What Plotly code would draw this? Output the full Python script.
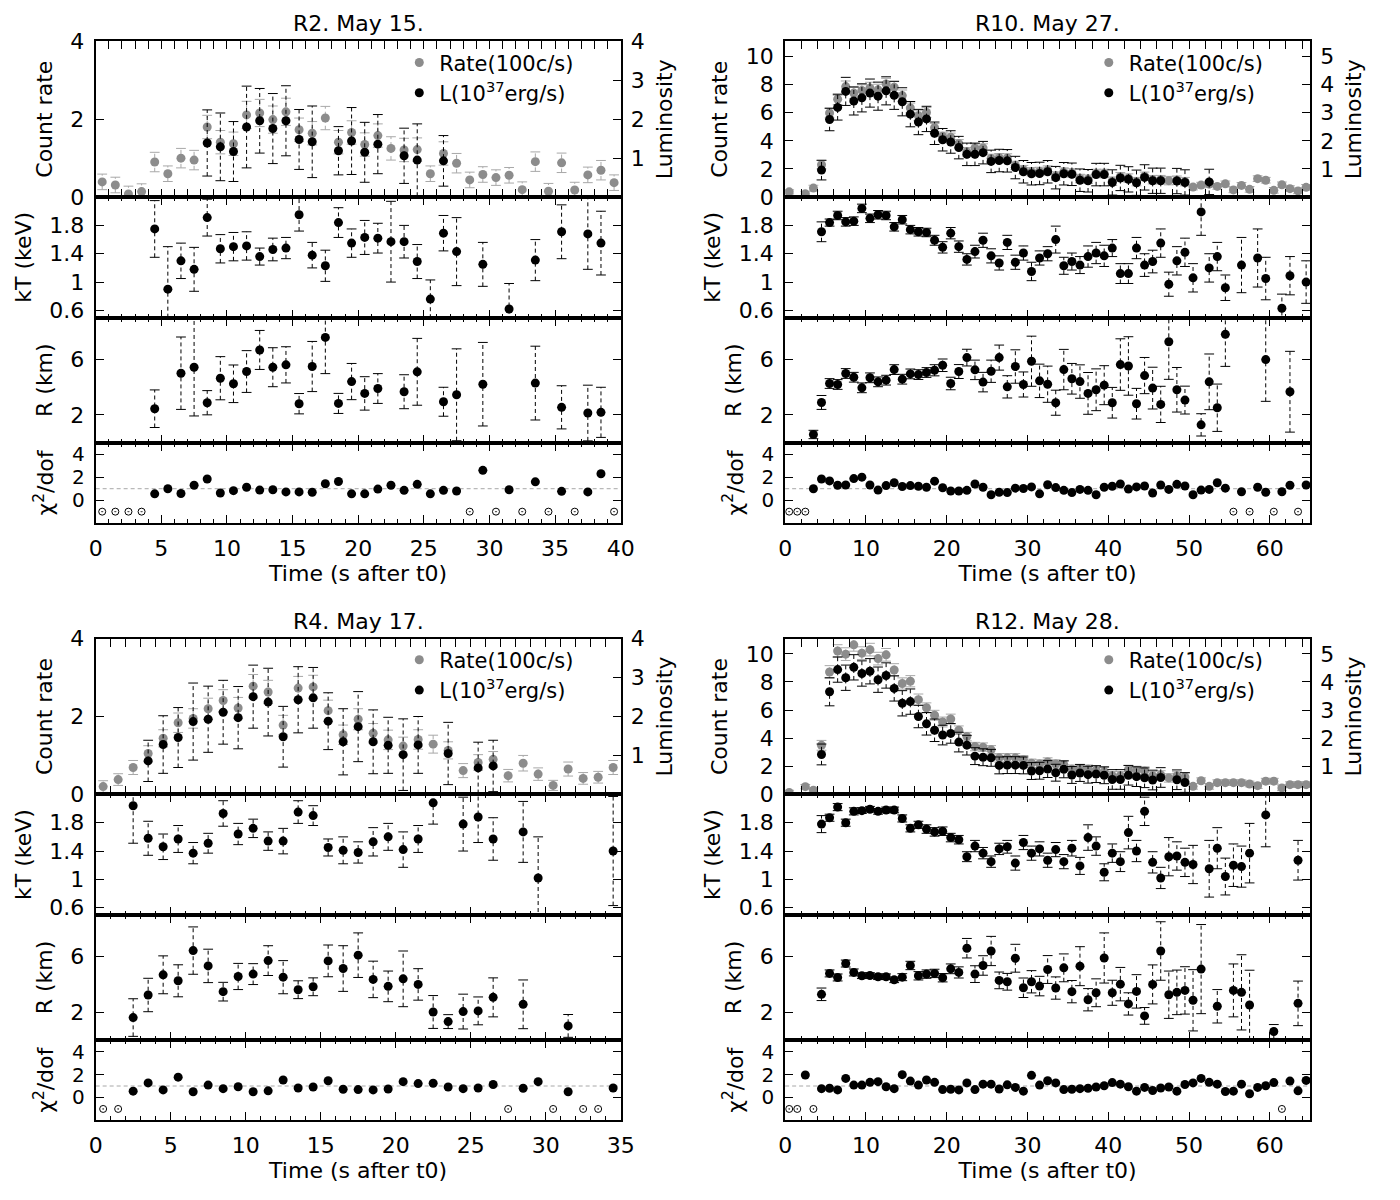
import plotly.graph_objects as go

FONT = "DejaVu Sans"
FS = 22
W, H = 1400, 1200
CHI_REF = 1.0        # reference level chi2/dof = 1
NOFIT_LEVEL = -1.0   # level at which bins without a fit are marked

# ======================= R2. May 15. =======================
R2_RATE_T = [0.5, 1.5, 2.5, 3.5, 4.5, 5.5, 6.5, 7.5, 8.5, 9.5, 10.5, 11.5, 12.5, 13.5, 14.5, 15.5, 16.5, 17.5, 18.5, 19.5,
             20.5, 21.5, 22.5, 23.5, 24.5, 25.5, 26.5, 27.5, 28.5, 29.5, 30.5, 31.5, 32.5, 33.5, 34.5, 35.5, 36.5, 37.5, 38.5, 39.5]
R2_RATE = [0.39, 0.31, 0.08, 0.14, 0.90, 0.60, 1.00, 0.95, 1.80, 1.41, 1.37, 2.11, 2.16, 1.99, 2.19, 1.73, 1.64, 2.03, 1.41, 1.66,
           1.35, 1.58, 1.25, 1.21, 1.22, 0.60, 1.12, 0.87, 0.44, 0.58, 0.50, 0.56, 0.19, 0.91, 0.15, 0.88, 0.18, 0.57, 0.69, 0.37]
R2_RATE_ERR = [0.2, 0.2, 0.2, 0.2, 0.25, 0.2, 0.25, 0.25, 0.3, 0.3, 0.3, 0.35, 0.35, 0.35, 0.35, 0.3, 0.3, 0.3, 0.3, 0.3,
               0.3, 0.3, 0.3, 0.3, 0.3, 0.2, 0.3, 0.25, 0.2, 0.2, 0.2, 0.2, 0.2, 0.25, 0.2, 0.25, 0.2, 0.2, 0.25, 0.2]
R2_LUM_T = [8.5, 9.5, 10.5, 11.5, 12.5, 13.5, 14.5, 15.5, 16.5, 18.5, 19.5, 20.5, 21.5, 23.5, 24.5, 26.5]
R2_LUM = [1.39, 1.29, 1.17, 1.80, 1.96, 1.76, 1.96, 1.48, 1.42, 1.19, 1.44, 1.15, 1.36, 1.06, 0.95, 0.93]
R2_LUM_ERR = [0.85, 0.87, 0.77, 1.05, 0.83, 0.9, 0.9, 0.77, 0.92, 0.62, 0.86, 0.77, 0.76, 0.71, 0.93, 0.65]
R2_KT_T = [4.5, 5.5, 6.5, 7.5, 8.5, 9.5, 10.5, 11.5, 12.5, 13.5, 14.5, 15.5, 16.5, 17.5, 18.5, 19.5, 20.5, 21.5, 22.5, 23.5,
           24.5, 25.5, 26.5, 27.5, 29.5, 31.5, 33.5, 35.5, 37.5, 38.5]
R2_KT = [1.75, 0.90, 1.30, 1.18, 1.91, 1.47, 1.50, 1.51, 1.36, 1.46, 1.48, 1.95, 1.38, 1.23, 1.84, 1.55, 1.63, 1.62, 1.57, 1.57,
         1.29, 0.76, 1.69, 1.43, 1.25, 0.62, 1.31, 1.71, 1.68, 1.55]
R2_KT_ERR = [0.40, 0.6, 0.25, 0.31, 0.26, 0.2, 0.2, 0.2, 0.12, 0.16, 0.15, 0.23, 0.18, 0.22, 0.21, 0.2, 0.24, 0.21, 0.57, 0.23,
             0.24, 0.27, 0.25, 0.48, 0.31, 0.36, 0.29, 0.38, 0.5, 0.45]
R2_R_T = [4.5, 6.5, 7.5, 8.5, 9.5, 10.5, 11.5, 12.5, 13.5, 14.5, 15.5, 16.5, 17.5, 18.5, 19.5, 20.5, 21.5, 23.5, 24.5, 26.5,
          27.5, 29.5, 33.5, 35.5, 37.5, 38.5]
R2_R = [2.45, 5.0, 5.43, 2.88, 4.64, 4.24, 5.12, 6.67, 5.43, 5.6, 2.81, 5.48, 7.57, 2.83, 4.4, 3.55, 3.9, 3.67, 5.1, 2.95,
        3.45, 4.21, 4.29, 2.55, 2.14, 2.19]
R2_R_ERR = [1.35, 2.6, 3.5, 0.87, 1.55, 1.35, 1.5, 1.4, 1.4, 1.3, 0.73, 1.8, 2.6, 0.72, 1.3, 1.2, 1.07, 1.22, 2.4, 1.04,
            3.3, 3.0, 2.65, 1.55, 2.0, 1.8]
R2_CHI_T = [4.5, 5.5, 6.5, 7.5, 8.5, 9.5, 10.5, 11.5, 12.5, 13.5, 14.5, 15.5, 16.5, 17.5, 18.5, 19.5, 20.5, 21.5, 22.5, 23.5,
            24.5, 25.5, 26.5, 27.5, 29.5, 31.5, 33.5, 35.5, 37.5, 38.5]
R2_CHI = [0.55, 1.0, 0.58, 1.3, 1.85, 0.63, 0.83, 1.13, 0.88, 0.91, 0.72, 0.72, 0.69, 1.43, 1.63, 0.55, 0.55, 0.97, 1.3, 0.86,
          1.38, 0.55, 0.86, 0.8, 2.6, 0.91, 1.6, 0.77, 0.72, 2.3]
R2_NOFIT_T = [0.5, 1.5, 2.5, 3.5, 28.5, 30.5, 32.5, 34.5, 36.5, 39.5]

# ======================= R10. May 27. =======================
R10_RATE_T = [0.5, 2.5, 3.5,
              4.5, 5.5, 6.5, 7.5, 8.5, 9.5, 10.5, 11.5, 12.5, 13.5, 14.5, 15.5, 16.5, 17.5, 18.5, 19.5, 20.5, 21.5, 22.5, 23.5,
              24.5, 25.5, 26.5, 27.5, 28.5, 29.5, 30.5, 31.5, 32.5, 33.5, 34.5, 35.5, 36.5, 37.5, 38.5, 39.5, 40.5, 41.5, 42.5, 43.5,
              44.5, 45.5, 46.5, 47.5, 48.5, 49.5, 50.5, 51.5, 52.5, 53.5, 54.5, 55.5, 56.5, 57.5, 58.5, 59.5, 60.5, 61.5, 62.5, 63.5,
              64.5]
R10_RATE = [0.37, 0.23, 0.64,
            2.30, 5.98, 6.97, 7.86, 7.40, 7.59, 7.77, 7.63, 8.05, 7.82, 7.22, 6.34, 5.79, 6.02, 4.94, 4.32, 4.25, 3.79, 3.22, 3.49,
            3.49, 2.75, 2.80, 2.78, 2.25, 1.95, 1.80, 1.82, 1.92, 1.50, 1.78, 1.72, 1.32, 1.27, 1.68, 1.68, 1.13, 1.45, 1.35, 1.10,
            1.48, 1.24, 1.24, 1.17, 1.20, 1.10, 0.71, 0.85, 0.92, 0.76, 0.94, 0.51, 0.83, 0.55, 1.31, 1.20, 0.48, 0.87, 0.60, 0.44,
            0.69]
R10_RATE_ERR = [0.15, 0.15, 0.2,
                0.3, 0.35, 0.4, 0.4, 0.4, 0.4, 0.4, 0.4, 0.4, 0.4, 0.4, 0.35, 0.35, 0.35, 0.3, 0.3, 0.3, 0.3, 0.3, 0.3,
                0.3, 0.3, 0.3, 0.3, 0.3, 0.3, 0.3, 0.3, 0.3, 0.3, 0.3, 0.3, 0.3, 0.3, 0.3, 0.3, 0.3, 0.3, 0.3, 0.3,
                0.3, 0.3, 0.3, 0.3, 0.3, 0.3, 0.2, 0.2, 0.2, 0.2, 0.2, 0.2, 0.2, 0.2, 0.2, 0.2, 0.2, 0.2, 0.2, 0.2,
                0.2]
R10_LUM_T = [4.5, 5.5, 6.5, 7.5, 8.5, 9.5, 10.5, 11.5, 12.5, 13.5, 14.5, 15.5, 16.5, 17.5, 18.5, 19.5, 20.5, 21.5, 22.5, 23.5,
             24.5, 25.5, 26.5, 27.5, 28.5, 29.5, 30.5, 31.5, 32.5, 33.5, 34.5, 35.5, 36.5, 37.5, 38.5, 39.5, 40.5, 41.5, 42.5, 43.5,
             44.5, 45.5, 46.5, 48.5, 49.5, 52.5]
R10_LUM = [0.96, 2.76, 3.19, 3.76, 3.42, 3.53, 3.70, 3.59, 3.78, 3.62, 3.39, 2.95, 2.67, 2.78, 2.27, 2.04, 1.96, 1.76, 1.52, 1.52,
           1.58, 1.27, 1.30, 1.29, 1.05, 0.90, 0.83, 0.84, 0.90, 0.69, 0.83, 0.81, 0.60, 0.58, 0.80, 0.80, 0.52, 0.68, 0.63, 0.51,
           0.70, 0.58, 0.58, 0.57, 0.52, 0.54]
R10_LUM_ERR = [0.35, 0.4, 0.45, 0.5, 0.5, 0.5, 0.5, 0.5, 0.5, 0.5, 0.5, 0.45, 0.45, 0.45, 0.4, 0.4, 0.4, 0.4, 0.4, 0.4,
               0.4, 0.4, 0.4, 0.4, 0.4, 0.4, 0.4, 0.4, 0.4, 0.4, 0.4, 0.4, 0.4, 0.4, 0.4, 0.4, 0.45, 0.45, 0.45, 0.45,
               0.45, 0.45, 0.45, 0.45, 0.45, 0.45]
R10_KT_T = [4.5, 5.5, 6.5, 7.5, 8.5, 9.5, 10.5, 11.5, 12.5, 13.5, 14.5, 15.5, 16.5, 17.5, 18.5, 19.5, 20.5, 21.5, 22.5, 23.5,
            24.5, 25.5, 26.5, 27.5, 28.5, 29.5, 30.5, 31.5, 32.5, 33.5, 34.5, 35.5, 36.5, 37.5, 38.5, 39.5, 40.5, 41.5, 42.5, 43.5,
            44.5, 45.5, 46.5, 47.5, 48.5, 49.5, 50.5, 51.5, 52.5, 53.5, 54.5, 56.5, 58.5, 59.5, 61.5, 62.5, 64.5]
R10_KT = [1.71, 1.84, 1.94, 1.85, 1.86, 2.04, 1.90, 1.95, 1.94, 1.78, 1.88, 1.74, 1.71, 1.70, 1.59, 1.49, 1.69, 1.50, 1.32, 1.43,
          1.59, 1.37, 1.27, 1.56, 1.28, 1.41, 1.15, 1.34, 1.40, 1.60, 1.23, 1.29, 1.24, 1.36, 1.41, 1.37, 1.48, 1.12, 1.12, 1.48,
          1.24, 1.29, 1.55, 0.97, 1.30, 1.42, 1.06, 1.99, 1.20, 1.36, 0.92, 1.24, 1.34, 1.05, 0.63, 1.09, 1.00]
R10_KT_ERR = [0.14, 0.05, 0.06, 0.06, 0.06, 0.06, 0.06, 0.06, 0.06, 0.06, 0.06, 0.06, 0.06, 0.06, 0.07, 0.08, 0.08, 0.08, 0.08, 0.09,
              0.1, 0.1, 0.1, 0.1, 0.1, 0.1, 0.13, 0.1, 0.1, 0.19, 0.12, 0.12, 0.12, 0.15, 0.15, 0.15, 0.12, 0.14, 0.14, 0.15,
              0.16, 0.16, 0.2, 0.17, 0.2, 0.2, 0.2, 0.33, 0.2, 0.2, 0.18, 0.39, 0.41, 0.3, 0.2, 0.27, 0.3]
R10_R_T = [3.5, 4.5, 5.5, 6.5, 7.5, 8.5, 9.5, 10.5, 11.5, 12.5, 13.5, 14.5, 15.5, 16.5, 17.5, 18.5, 19.5, 20.5, 21.5, 22.5,
           23.5, 24.5, 25.5, 26.5, 27.5, 28.5, 29.5, 30.5, 31.5, 32.5, 33.5, 34.5, 35.5, 36.5, 37.5, 38.5, 39.5, 40.5, 41.5, 42.5,
           43.5, 44.5, 45.5, 46.5, 47.5, 48.5, 49.5, 51.5, 52.5, 53.5, 54.5, 59.5, 62.5]
R10_R = [0.6, 2.9, 4.26, 4.19, 4.98, 4.71, 3.95, 4.67, 4.38, 4.5, 5.26, 4.57, 4.95, 4.9, 5.05, 5.21, 5.57, 4.26, 5.12, 6.12,
         5.24, 4.36, 5.14, 6.12, 4.02, 5.48, 4.19, 5.86, 4.45, 4.21, 2.88, 5.26, 4.6, 4.4, 3.55, 3.81, 4.14, 2.88, 5.62, 5.52,
         2.81, 4.83, 3.93, 2.76, 7.26, 3.81, 3.07, 1.29, 4.38, 2.52, 7.79, 5.98, 3.67]
R10_R_ERR = [0.3, 0.5, 0.35, 0.35, 0.35, 0.35, 0.35, 0.35, 0.35, 0.35, 0.35, 0.35, 0.35, 0.35, 0.35, 0.4, 0.45, 0.45, 0.5, 0.6,
             0.7, 0.7, 0.8, 0.9, 0.8, 1.2, 0.9, 1.8, 1.2, 1.3, 0.9, 1.45, 1.1, 1.2, 1.5, 1.5, 1.4, 1.1, 1.85, 2.1,
             1.1, 1.3, 1.5, 1.3, 2.7, 1.6, 1.0, 0.8, 2.0, 1.7, 2.3, 3.0, 2.9]
R10_CHI_T = [3.5, 4.5, 5.5, 6.5, 7.5, 8.5, 9.5, 10.5, 11.5, 12.5, 13.5, 14.5, 15.5, 16.5, 17.5, 18.5, 19.5, 20.5, 21.5, 22.5,
             23.5, 24.5, 25.5, 26.5, 27.5, 28.5, 29.5, 30.5, 31.5, 32.5, 33.5, 34.5, 35.5, 36.5, 37.5, 38.5, 39.5, 40.5, 41.5, 42.5,
             43.5, 44.5, 45.5, 46.5, 47.5, 48.5, 49.5, 50.5, 51.5, 52.5, 53.5, 54.5, 56.5, 58.5, 59.5, 61.5, 62.5, 64.5]
R10_CHI = [1.0, 1.85, 1.68, 1.3, 1.32, 1.88, 2.01, 1.32, 0.88, 1.27, 1.52, 1.19, 1.27, 1.21, 1.13, 1.66, 1.08, 0.8, 0.8, 0.86,
           1.41, 1.13, 0.47, 0.69, 0.66, 1.05, 1.02, 1.16, 0.55, 1.35, 1.1, 0.86, 0.66, 0.94, 0.86, 0.47, 1.13, 1.21, 1.41, 0.97,
           1.16, 1.24, 0.63, 1.32, 0.94, 1.38, 1.24, 0.47, 0.88, 0.94, 1.52, 1.05, 0.74, 1.13, 0.69, 0.74, 1.3, 1.32]
R10_NOFIT_T = [0.5, 1.5, 2.5, 55.5, 57.5, 60.5, 63.5]

# ======================= R4. May 17. =======================
R4_RATE_T = [0.5, 1.5, 2.5, 3.5, 4.5, 5.5, 6.5, 7.5, 8.5, 9.5, 10.5, 11.5, 12.5, 13.5, 14.5, 15.5, 16.5, 17.5, 18.5, 19.5,
             20.5, 21.5, 22.5, 23.5, 24.5, 25.5, 26.5, 27.5, 28.5, 29.5, 30.5, 31.5, 32.5, 33.5, 34.5]
R4_RATE = [0.20, 0.38, 0.69, 1.05, 1.44, 1.84, 1.95, 2.20, 2.41, 2.22, 2.78, 2.63, 1.78, 2.73, 2.76, 2.15, 1.53, 1.93, 1.57, 1.40,
           1.24, 1.41, 1.29, 1.13, 0.61, 0.82, 0.90, 0.48, 0.80, 0.52, 0.23, 0.65, 0.41, 0.44, 0.69]
R4_RATE_ERR = [0.15, 0.15, 0.18, 0.2, 0.22, 0.25, 0.25, 0.27, 0.28, 0.27, 0.3, 0.3, 0.25, 0.3, 0.3, 0.27, 0.25, 0.27, 0.25, 0.25,
               0.23, 0.25, 0.23, 0.22, 0.18, 0.2, 0.2, 0.16, 0.2, 0.16, 0.13, 0.18, 0.15, 0.15, 0.18]
R4_LUM_T = [3.5, 4.5, 5.5, 6.5, 7.5, 8.5, 9.5, 10.5, 11.5, 12.5, 13.5, 14.5, 15.5, 16.5, 17.5, 18.5, 19.5, 20.5, 21.5, 23.5,
            25.5, 26.5]
R4_LUM = [0.86, 1.28, 1.46, 1.87, 1.93, 2.11, 1.97, 2.51, 2.37, 1.48, 2.43, 2.48, 1.88, 1.35, 1.74, 1.35, 1.26, 1.02, 1.27, 1.05,
          0.68, 0.73]
R4_LUM_ERR = [0.53, 0.74, 0.77, 0.99, 0.85, 0.82, 0.8, 0.81, 0.87, 0.78, 0.85, 0.78, 0.73, 0.85, 0.9, 0.82, 0.72, 0.92, 0.73, 0.8,
              0.66, 0.66]
R4_KT_T = [2.5, 3.5, 4.5, 5.5, 6.5, 7.5, 8.5, 9.5, 10.5, 11.5, 12.5, 13.5, 14.5, 15.5, 16.5, 17.5, 18.5, 19.5, 20.5, 21.5,
           22.5, 24.5, 25.5, 26.5, 28.5, 29.5, 34.5]
R4_KT = [2.04, 1.58, 1.46, 1.57, 1.37, 1.51, 1.93, 1.64, 1.72, 1.54, 1.54, 1.95, 1.90, 1.45, 1.41, 1.38, 1.53, 1.60, 1.42, 1.57,
         2.08, 1.78, 1.88, 1.57, 1.67, 1.02, 1.40]
R4_KT_ERR = [0.53, 0.24, 0.18, 0.19, 0.15, 0.14, 0.18, 0.15, 0.13, 0.13, 0.18, 0.16, 0.14, 0.12, 0.19, 0.15, 0.2, 0.19, 0.25, 0.19,
             0.3, 0.38, 0.36, 0.3, 0.43, 0.58, 0.77]
R4_R_T = [2.5, 3.5, 4.5, 5.5, 6.5, 7.5, 8.5, 9.5, 10.5, 11.5, 12.5, 13.5, 14.5, 15.5, 16.5, 17.5, 18.5, 19.5, 20.5, 21.5,
          22.5, 23.5, 24.5, 25.5, 26.5, 28.5, 31.5]
R4_R = [1.62, 3.24, 4.69, 4.26, 6.43, 5.33, 3.48, 4.57, 4.74, 5.71, 4.52, 3.62, 3.83, 5.69, 5.14, 6.1, 4.36, 3.86, 4.4, 4.0,
        2.02, 1.33, 2.05, 2.1, 3.07, 2.57, 1.02]
R4_R_ERR = [1.35, 1.2, 1.36, 1.15, 1.7, 1.2, 0.67, 0.94, 0.75, 1.07, 1.19, 0.64, 0.64, 1.14, 1.64, 1.6, 1.31, 1.1, 2.0, 1.13,
            1.18, 0.5, 1.25, 1.0, 1.4, 1.75, 0.82]
R4_CHI_T = [2.5, 3.5, 4.5, 5.5, 6.5, 7.5, 8.5, 9.5, 10.5, 11.5, 12.5, 13.5, 14.5, 15.5, 16.5, 17.5, 18.5, 19.5, 20.5, 21.5,
            22.5, 23.5, 24.5, 25.5, 26.5, 28.5, 29.5, 31.5, 34.5]
R4_CHI = [0.55, 1.27, 0.66, 1.77, 0.5, 1.08, 0.77, 0.94, 0.5, 0.58, 1.52, 0.83, 0.91, 1.46, 0.72, 0.69, 0.66, 0.74, 1.38, 1.21,
          1.24, 0.91, 0.77, 0.83, 1.13, 0.8, 1.38, 0.5, 0.83]
R4_NOFIT_T = [0.5, 1.5, 27.5, 30.5, 32.5, 33.5]

# ======================= R12. May 28. =======================
R12_RATE_T = [0.5, 2.5, 3.5,
              4.5, 5.5, 6.5, 7.5, 8.5, 9.5, 10.5, 11.5, 12.5, 13.5, 14.5, 15.5, 16.5, 17.5, 18.5, 19.5, 20.5, 21.5, 22.5, 23.5,
              24.5, 25.5, 26.5, 27.5, 28.5, 29.5, 30.5, 31.5, 32.5, 33.5, 34.5, 35.5, 36.5, 37.5, 38.5, 39.5, 40.5, 41.5, 42.5, 43.5,
              44.5, 45.5, 46.5, 47.5, 48.5, 49.5, 50.5, 51.5, 52.5, 53.5, 54.5, 55.5, 56.5, 57.5, 58.5, 59.5, 60.5, 61.5, 62.5, 63.5,
              64.5]
R12_RATE = [0.14, 0.55, 0.30,
            3.49, 8.71, 10.2, 9.98, 10.64, 10.05, 10.3, 9.66, 9.93, 8.85, 7.89, 8.05, 6.74, 6.16, 5.63, 5.15, 5.36, 4.57, 4.11, 3.40,
            3.36, 3.17, 2.60, 2.60, 2.60, 2.46, 2.21, 2.16, 2.30, 2.16, 2.11, 1.79, 1.84, 1.79, 1.72, 1.61, 1.33, 1.33, 1.75, 1.70,
            1.66, 1.33, 1.38, 1.17, 1.31, 1.24, 0.57, 0.97, 0.57, 0.83, 0.83, 0.83, 0.83, 0.74, 0.62, 0.94, 0.94, 0.46, 0.69, 0.69,
            0.69]
R12_RATE_ERR = [0.15, 0.15, 0.15,
                0.35, 0.45, 0.45, 0.45, 0.45, 0.45, 0.45, 0.45, 0.45, 0.45, 0.4, 0.4, 0.4, 0.35, 0.35, 0.35, 0.35, 0.3, 0.3, 0.3,
                0.3, 0.3, 0.3, 0.3, 0.3, 0.3, 0.3, 0.3, 0.3, 0.3, 0.3, 0.3, 0.3, 0.3, 0.3, 0.3, 0.3, 0.3, 0.3, 0.3,
                0.3, 0.3, 0.3, 0.3, 0.3, 0.3, 0.2, 0.2, 0.2, 0.2, 0.2, 0.2, 0.2, 0.2, 0.2, 0.2, 0.2, 0.2, 0.2, 0.2,
                0.2]
R12_LUM_T = [4.5, 5.5, 6.5, 7.5, 8.5, 9.5, 10.5, 11.5, 12.5, 13.5, 14.5, 15.5, 16.5, 17.5, 18.5, 19.5, 20.5, 21.5, 22.5, 23.5,
             24.5, 25.5, 26.5, 27.5, 28.5, 29.5, 30.5, 31.5, 32.5, 33.5, 34.5, 35.5, 36.5, 37.5, 38.5, 39.5, 40.5, 41.5, 42.5, 43.5,
             44.5, 45.5, 46.5, 48.5, 49.5]
R12_LUM = [1.42, 3.65, 4.44, 4.15, 4.52, 4.30, 4.38, 4.08, 4.23, 3.77, 3.24, 3.30, 2.77, 2.51, 2.28, 2.11, 2.17, 1.86, 1.75, 1.36,
           1.32, 1.30, 1.03, 1.04, 1.04, 1.03, 0.83, 0.84, 0.90, 0.77, 0.89, 0.69, 0.76, 0.70, 0.72, 0.68, 0.53, 0.53, 0.68, 0.63,
           0.59, 0.51, 0.60, 0.52, 0.42]
R12_LUM_ERR = [0.37, 0.5, 0.45, 0.45, 0.45, 0.45, 0.45, 0.45, 0.45, 0.45, 0.45, 0.45, 0.4, 0.4, 0.4, 0.35, 0.35, 0.35, 0.35, 0.3,
               0.3, 0.3, 0.3, 0.3, 0.3, 0.3, 0.3, 0.3, 0.3, 0.3, 0.3, 0.3, 0.3, 0.3, 0.3, 0.3, 0.35, 0.35, 0.35, 0.35,
               0.35, 0.35, 0.35, 0.35, 0.35]
R12_KT_T = [4.5, 5.5, 6.5, 7.5, 8.5, 9.5, 10.5, 11.5, 12.5, 13.5, 14.5, 15.5, 16.5, 17.5, 18.5, 19.5, 20.5, 21.5, 22.5, 23.5,
            24.5, 25.5, 26.5, 27.5, 28.5, 29.5, 30.5, 31.5, 32.5, 33.5, 34.5, 35.5, 36.5, 37.5, 38.5, 39.5, 40.5, 41.5, 42.5, 43.5,
            44.5, 45.5, 46.5, 47.5, 48.5, 49.5, 50.5, 52.5, 53.5, 54.5, 55.5, 56.5, 57.5, 59.5, 63.5]
R12_KT = [1.78, 1.87, 2.02, 1.80, 1.96, 1.97, 1.99, 1.96, 1.98, 1.98, 1.86, 1.72, 1.77, 1.71, 1.67, 1.68, 1.59, 1.56, 1.32, 1.47,
          1.37, 1.25, 1.43, 1.46, 1.23, 1.52, 1.37, 1.43, 1.27, 1.42, 1.25, 1.44, 1.19, 1.59, 1.47, 1.10, 1.37, 1.25, 1.66, 1.40,
          1.96, 1.24, 1.02, 1.32, 1.33, 1.24, 1.21, 1.15, 1.44, 1.04, 1.20, 1.18, 1.37, 1.91, 1.27]
R12_KT_ERR = [0.12, 0.05, 0.05, 0.05, 0.05, 0.04, 0.04, 0.04, 0.04, 0.04, 0.05, 0.05, 0.05, 0.06, 0.06, 0.06, 0.06, 0.06, 0.07, 0.08,
              0.08, 0.08, 0.08, 0.09, 0.1, 0.1, 0.1, 0.1, 0.1, 0.1, 0.1, 0.11, 0.12, 0.18, 0.13, 0.12, 0.13, 0.14, 0.23, 0.15,
              0.2, 0.15, 0.15, 0.27, 0.2, 0.2, 0.27, 0.4, 0.29, 0.26, 0.3, 0.29, 0.42, 0.45, 0.28]
R12_R_T = [4.5, 5.5, 6.5, 7.5, 8.5, 9.5, 10.5, 11.5, 12.5, 13.5, 14.5, 15.5, 16.5, 17.5, 18.5, 19.5, 20.5, 21.5, 22.5, 23.5,
           24.5, 25.5, 26.5, 27.5, 28.5, 29.5, 30.5, 31.5, 32.5, 33.5, 34.5, 35.5, 36.5, 37.5, 38.5, 39.5, 40.5, 41.5, 42.5, 43.5,
           44.5, 45.5, 46.5, 47.5, 48.5, 49.5, 50.5, 51.5, 53.5, 55.5, 56.5, 57.5, 60.5, 63.5]
R12_R = [3.29, 4.79, 4.5, 5.5, 4.86, 4.62, 4.64, 4.55, 4.55, 4.33, 4.52, 5.36, 4.62, 4.74, 4.79, 4.48, 5.12, 4.86, 6.6, 4.74,
         5.36, 6.4, 4.29, 4.19, 5.88, 3.76, 4.19, 3.88, 5.07, 3.74, 5.19, 3.48, 5.31, 2.9, 3.4, 5.9, 3.4, 4.02, 2.6, 3.5,
         1.74, 4.0, 6.4, 3.26, 3.43, 3.57, 2.86, 5.1, 2.43, 3.57, 3.43, 2.52, 0.62, 2.64]
R12_R_ERR = [0.45, 0.25, 0.25, 0.25, 0.25, 0.2, 0.2, 0.2, 0.2, 0.2, 0.25, 0.3, 0.3, 0.3, 0.3, 0.3, 0.35, 0.4, 0.7, 0.6,
             0.7, 1.05, 0.6, 0.6, 1.0, 0.7, 0.8, 0.7, 1.0, 0.8, 1.0, 0.8, 1.4, 0.8, 1.0, 1.8, 0.9, 1.2, 0.8, 1.2,
             0.6, 1.4, 2.1, 1.7, 1.6, 1.7, 2.2, 3.2, 1.2, 1.9, 2.7, 2.5, 0.5, 1.6]
R12_CHI_T = [2.5,
             4.5, 5.5, 6.5, 7.5, 8.5, 9.5, 10.5, 11.5, 12.5, 13.5, 14.5, 15.5, 16.5, 17.5, 18.5, 19.5, 20.5, 21.5, 22.5, 23.5,
             24.5, 25.5, 26.5, 27.5, 28.5, 29.5, 30.5, 31.5, 32.5, 33.5, 34.5, 35.5, 36.5, 37.5, 38.5, 39.5, 40.5, 41.5, 42.5, 43.5,
             44.5, 45.5, 46.5, 47.5, 48.5, 49.5, 50.5, 51.5, 52.5, 53.5, 54.5, 55.5, 56.5, 57.5, 58.5, 59.5, 60.5,
             62.5, 63.5, 64.5]
R12_CHI = [1.96,
           0.77, 0.8, 0.66, 1.66, 1.08, 1.08, 1.32, 1.38, 0.94, 0.77, 1.99, 1.43, 1.08, 1.52, 1.32, 0.69, 0.72, 0.66, 1.27, 0.69,
           1.16, 1.16, 0.74, 1.1, 0.88, 0.55, 1.93, 1.08, 1.46, 1.27, 0.69, 0.72, 0.77, 0.8, 0.91, 1.02, 1.3, 1.16, 0.94, 0.55,
           0.88, 0.61, 0.83, 0.91, 0.55, 1.13, 1.27, 1.66, 1.32, 1.16, 0.52, 0.55, 1.16, 0.33, 0.88, 1.02, 1.3,
           1.43, 0.58, 1.49]
R12_NOFIT_T = [0.5, 1.5, 3.5, 61.5]

# ======================= panel setup =======================
LEG_RATE = "Rate(100c/s)"
LEG_LUM = "L(10<sup>37</sup>erg/s)"
X_TITLE = "Time (s after t0)"
Y_TITLES = ["Count rate", "kT (keV)", "R (km)", "\u03c7<sup>2</sup>/dof"]
Y2_TITLE = "Luminosity"

PANELS = [
    dict(title="R2. May 15.", col=0, row=0, xmax=40, xdtick=5, xminor=1, cmax=4.0, ctick=[0, 2, 4], lscale=1.0, ltick=[1, 2, 3, 4],
         rate=(R2_RATE_T, R2_RATE, R2_RATE_ERR), lum=(R2_LUM_T, R2_LUM, R2_LUM_ERR), kt=(R2_KT_T, R2_KT, R2_KT_ERR),
         r=(R2_R_T, R2_R, R2_R_ERR), chi=(R2_CHI_T, R2_CHI), nofit=R2_NOFIT_T),
    dict(title="R10. May 27.", col=1, row=0, xmax=65, xdtick=10, xminor=2, cmax=11.08, ctick=[0, 2, 4, 6, 8, 10], lscale=2.0,
         ltick=[1, 2, 3, 4, 5],
         rate=(R10_RATE_T, R10_RATE, R10_RATE_ERR), lum=(R10_LUM_T, R10_LUM, R10_LUM_ERR), kt=(R10_KT_T, R10_KT, R10_KT_ERR),
         r=(R10_R_T, R10_R, R10_R_ERR), chi=(R10_CHI_T, R10_CHI), nofit=R10_NOFIT_T),
    dict(title="R4. May 17.", col=0, row=1, xmax=35, xdtick=5, xminor=1, cmax=4.0, ctick=[0, 2, 4], lscale=1.0, ltick=[1, 2, 3, 4],
         rate=(R4_RATE_T, R4_RATE, R4_RATE_ERR), lum=(R4_LUM_T, R4_LUM, R4_LUM_ERR), kt=(R4_KT_T, R4_KT, R4_KT_ERR),
         r=(R4_R_T, R4_R, R4_R_ERR), chi=(R4_CHI_T, R4_CHI), nofit=R4_NOFIT_T),
    dict(title="R12. May 28.", col=1, row=1, xmax=65, xdtick=10, xminor=2, cmax=11.08, ctick=[0, 2, 4, 6, 8, 10], lscale=2.0,
         ltick=[1, 2, 3, 4, 5],
         rate=(R12_RATE_T, R12_RATE, R12_RATE_ERR), lum=(R12_LUM_T, R12_LUM, R12_LUM_ERR), kt=(R12_KT_T, R12_KT, R12_KT_ERR),
         r=(R12_R_T, R12_R, R12_R_ERR), chi=(R12_CHI_T, R12_CHI), nofit=R12_NOFIT_T),
]

KT_RANGE = [0.5, 2.2]
KT_TICKS = [0.6, 1.0, 1.4, 1.8]
KT_TEXT = ["0.6", "1", "1.4", "1.8"]
R_RANGE = [0, 9]
R_TICKS = [2, 6]
CHI_RANGE = [-2, 5]
CHI_TICKS = [0, 2, 4]

# geometry in pixels
XPIX = [(90, 623), (790, 1323)]
ROW_OFF = [0, 610]
SUB_PIX = [(30, 189), (189, 312), (312, 440), (440, 522)]

GRAY = "#8c8c8c"
GRAY_ERR = "#a8a8a8"
BLACK = "#000000"


def fx(px):
    return px / W


def fy(px):
    return 1 - px / H


def ref(letter, k):
    return letter if k == 1 else f"{letter}{k}"


def key(letter, k):
    return f"{letter}axis" if k == 1 else f"{letter}axis{k}"


def tfont(size=FS):
    return dict(size=size, color="black", family=FONT)


fig = go.Figure()
layout = {}
annotations = []
shapes = []


def add_err(t, v, e, xa, ya, color):
    xs, ys = [], []
    for ti, vi, ei in zip(t, v, e):
        xs += [ti, ti, None]
        ys += [vi - ei, vi + ei, None]
    fig.add_trace(go.Scatter(x=xs, y=ys, mode="lines", xaxis=xa, yaxis=ya, showlegend=False, hoverinfo="skip",
                             line=dict(color=color, width=1, dash="4px,3px")))
    cx = list(t) + list(t)
    cy = [vi - ei for vi, ei in zip(v, e)] + [vi + ei for vi, ei in zip(v, e)]
    fig.add_trace(go.Scatter(x=cx, y=cy, mode="markers", xaxis=xa, yaxis=ya, showlegend=False, hoverinfo="skip",
                             marker=dict(symbol="line-ew", size=7, color=color, line=dict(width=1, color=color))))


def add_pts(t, v, xa, ya, color, name=None, legend=None, size=9):
    kw = dict(showlegend=False)
    if name is not None:
        kw = dict(showlegend=True, name=name, legend=legend)
    fig.add_trace(go.Scatter(x=t, y=v, mode="markers", xaxis=xa, yaxis=ya,
                             marker=dict(size=size, color=color, line=dict(width=0)), **kw))


common_x = dict(ticks="inside", ticklen=8, tickwidth=1, tickcolor="black", mirror="allticks", showline=True,
                linecolor="black", linewidth=2, showgrid=False, zeroline=False, tick0=0,
                tickfont=tfont(), ticklabelstandoff=4)
common_y = dict(ticks="inside", ticklen=8, tickwidth=1, tickcolor="black", showline=True, linecolor="black", linewidth=2,
                showgrid=False, zeroline=False, tickfont=tfont(), ticklabelstandoff=5)

for p, P in enumerate(PANELS):
    col, row = P["col"], P["row"]
    xd = [fx(XPIX[col][0]), fx(XPIX[col][1])]
    off = ROW_OFF[row]
    legend_id = "legend" if p == 0 else f"legend{p + 1}"
    for s in range(4):
        k = p * 4 + s + 1
        top, bot = SUB_PIX[s]
        yd = [fy(bot + off), fy(top + off)]
        xa = dict(common_x, domain=xd, anchor=ref("y", k), range=[0, P["xmax"]], dtick=P["xdtick"],
                  showticklabels=(s == 3),
                  minor=dict(dtick=P["xminor"], tick0=0, ticks="inside", ticklen=4, tickwidth=1,
                             tickcolor="black", showgrid=False))
        if s == 3:
            xa["title"] = dict(text=X_TITLE, font=tfont(), standoff=1)
        layout[key("x", k)] = xa
        ya = dict(common_y, domain=yd, anchor=ref("x", k), title=dict(text=Y_TITLES[s], font=tfont(), standoff=12))
        if s == 0:
            ya.update(range=[0, P["cmax"]], tickvals=P["ctick"], mirror=True)
        elif s == 1:
            ya.update(range=KT_RANGE, tickvals=KT_TICKS, ticktext=KT_TEXT, mirror="allticks")
        elif s == 2:
            ya.update(range=R_RANGE, tickvals=R_TICKS, mirror="allticks")
        else:
            ya.update(range=CHI_RANGE, tickvals=CHI_TICKS, mirror="allticks", tickfont=tfont(20))
        layout[key("y", k)] = ya

    k0 = p * 4 + 1
    kl = 17 + p
    layout[key("y", kl)] = dict(common_y, overlaying=ref("y", k0), side="right", anchor=ref("x", k0),
                                range=[0, P["cmax"] / P["lscale"]], tickvals=P["ltick"], showline=False,
                                ticklabelstandoff=9, title=dict(text=Y2_TITLE, font=tfont(), standoff=12))

    # count-rate panel: gray rate, then black luminosity on the right axis
    xa0, ya0 = ref("x", k0), ref("y", k0)
    t, v, e = P["rate"]
    add_err(t, v, e, xa0, ya0, GRAY_ERR)
    add_pts(t, v, xa0, ya0, GRAY, name=LEG_RATE, legend=legend_id)
    t, v, e = P["lum"]
    yl = ref("y", kl)
    add_err(t, v, e, xa0, yl, BLACK)
    add_pts(t, v, xa0, yl, BLACK, name=LEG_LUM, legend=legend_id)

    # kT
    k = k0 + 1
    t, v, e = P["kt"]
    add_err(t, v, e, ref("x", k), ref("y", k), BLACK)
    add_pts(t, v, ref("x", k), ref("y", k), BLACK)
    # R
    k = k0 + 2
    t, v, e = P["r"]
    add_err(t, v, e, ref("x", k), ref("y", k), BLACK)
    add_pts(t, v, ref("x", k), ref("y", k), BLACK)
    # chi2
    k = k0 + 3
    t, v = P["chi"]
    shapes.append(dict(type="line", xref=f"{ref('x', k)} domain", x0=0, x1=1, yref=ref("y", k), y0=CHI_REF, y1=CHI_REF,
                       line=dict(color="#a8a8a8", width=1, dash="4px,3px"), layer="below"))
    add_pts(t, v, ref("x", k), ref("y", k), BLACK)
    fig.add_trace(go.Scatter(x=P["nofit"], y=[NOFIT_LEVEL] * len(P["nofit"]), mode="markers", xaxis=ref("x", k),
                             yaxis=ref("y", k), showlegend=False,
                             marker=dict(symbol="circle-open-dot", size=7, color=BLACK, line=dict(width=1, color=BLACK))))

    # panel title
    xc = (XPIX[col][0] + XPIX[col][1]) / 2
    annotations.append(dict(text=P["title"], x=fx(xc), y=fy(12 + off), xref="paper", yref="paper", showarrow=False,
                            xanchor="center", yanchor="middle", font=tfont()))
    layout[legend_id] = dict(x=fx(XPIX[col][1] - 42), xanchor="right", y=fy(31 + off), yanchor="top",
                             bgcolor="rgba(0,0,0,0)", font=tfont(21), tracegroupgap=0, itemwidth=30)

fig.update_layout(**layout)
fig.update_layout(width=W, height=H, margin=dict(l=0, r=0, t=0, b=0), paper_bgcolor="white", plot_bgcolor="white",
                  font=dict(family=FONT, size=FS, color="black"), annotations=annotations, shapes=shapes,
                  hovermode=False)

fig.write_html("out.html", config={"displayModeBar": False},
               post_script="document.body.style.margin='0';document.body.style.overflow='hidden';")
